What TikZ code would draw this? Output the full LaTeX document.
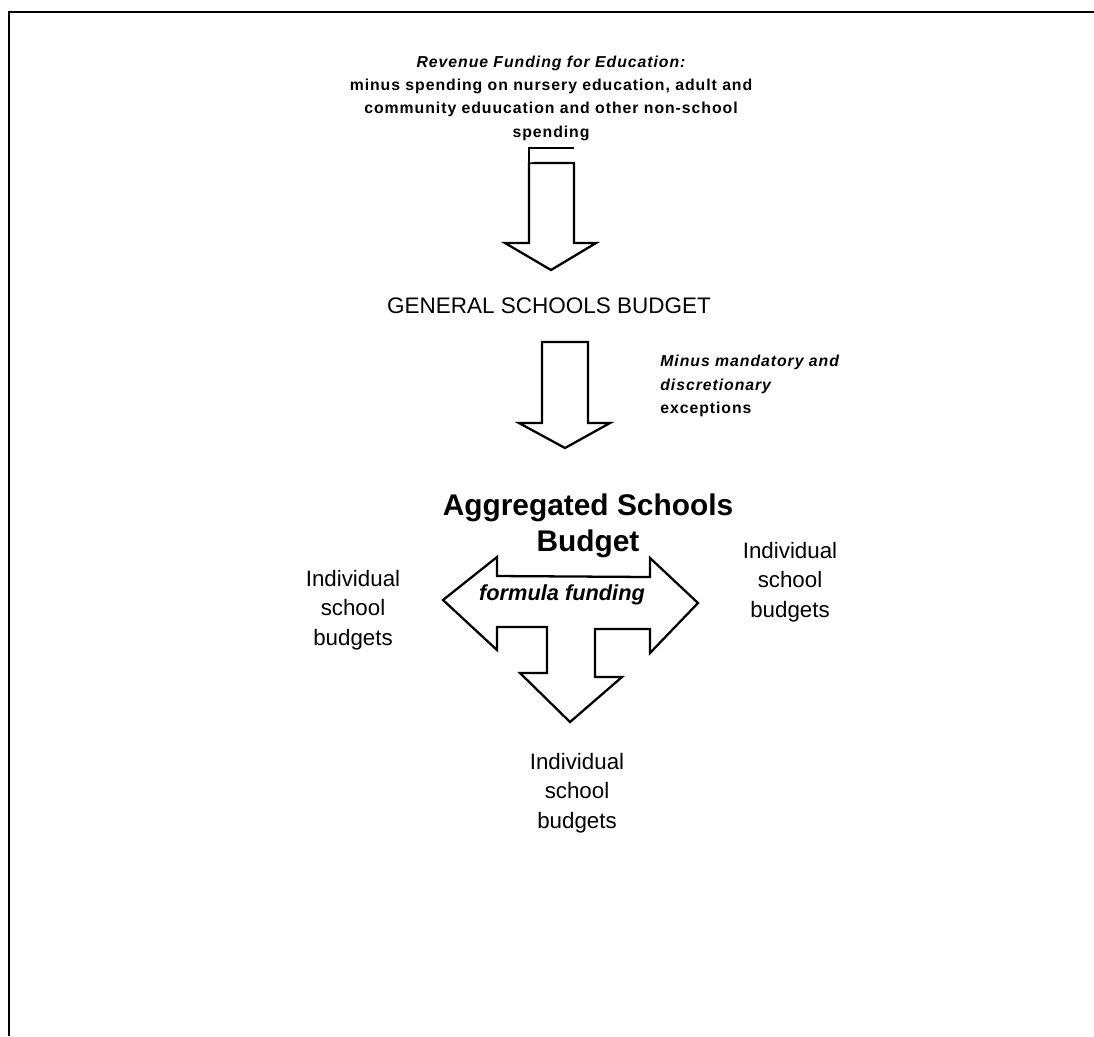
\documentclass[tikz,border=0pt]{standalone}
\usepackage{fontspec}
\setmainfont{Liberation Sans}
\newfontfamily\trackfont[LetterSpace=6]{Liberation Sans}
\usepackage{tikz}

\begin{document}
\begin{tikzpicture}[
  x = 0.02cm, y = -0.02cm,
  frame/.style    = {line width=1pt},
  blockarr/.style = {draw, fill=white, line width=1.3pt, line join=miter},
  note/.style     = {font=\trackfont\fontsize{9}{13.3}\selectfont\bfseries,
                     inner sep=0pt},
  heading/.style  = {font=\fontsize{12.8}{15}\selectfont, inner sep=0pt},
  bighead/.style  = {font=\fontsize{17}{20.4}\selectfont\bfseries, align=center,
                     inner sep=0pt},
  budgets/.style  = {font=\fontsize{12.7}{16.8}\selectfont, align=center,
                     inner sep=0pt}
]
\path[fill=white, use as bounding box] (0,0) rectangle (1094,1036);

% ── PAGE EDGE ───────────────────────────────────────────
\draw[frame] (1094,12) -- (9,12) -- (9,1036);

% ── REVENUE ─────────────────────────────────────────────
\node[note, align=center] (rev) at (551,98)
  {{\itshape Revenue Funding for Education:}\\
   minus spending on nursery education, adult and\\
   community eduucation and other non-school\\
   spending};

\draw[blockarr] (529,163) -- (574,163) -- (574,243) -- (596,243)
                -- (551,270) -- (505,243) -- (529,243) -- cycle;
\draw[blockarr] (574,148) -- (529,148) -- (529,163);

% ── GENERAL SCHOOLS BUDGET ──────────────────────────────
\node[heading] (gsb) at (549,306) {GENERAL SCHOOLS BUDGET};

\draw[blockarr] (542,342) -- (588,342) -- (588,423) -- (610,423)
                -- (565,448) -- (519,423) -- (542,423) -- cycle;
\node[note, align=left, anchor=west] (exc) at (660,386)
  {{\itshape Minus mandatory and}\\
   {\itshape discretionary}\\
   exceptions};

% ── AGGREGATED SCHOOLS BUDGET ───────────────────────────
\node[bighead] (asb) at (588,526) {Aggregated Schools\\Budget};

\draw[blockarr] (443,600) -- (497,557) -- (497,576) -- (650,577)
                -- (650,558) -- (698,603) -- (650,653) -- (650,629)
                -- (595,629) -- (595,677) -- (622,677) -- (570,722)
                -- (520,673) -- (547,673) -- (547,627) -- (497,627)
                -- (497,650) -- cycle;
\node[font=\fontsize{12.4}{15}\selectfont\bfseries\itshape, inner sep=0pt]
  (ff) at (562,595) {formula funding};

% ── INDIVIDUAL SCHOOL BUDGETS ───────────────────────────
\node[budgets] (isbl) at (353,610) {Individual\\school\\budgets};
\node[budgets] (isbr) at (790,582) {Individual\\school\\budgets};
\node[budgets] (isbb) at (577,793) {Individual\\school\\budgets};

\end{tikzpicture}
\end{document}
